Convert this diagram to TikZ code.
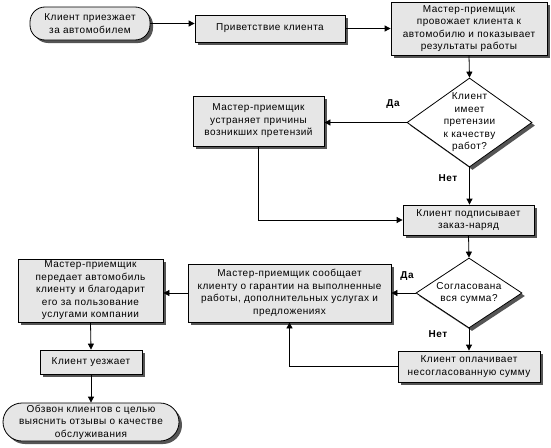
\documentclass[tikz,border=0pt]{standalone}
\usepackage{fontspec}
\setmainfont[LetterSpace=5]{Liberation Sans}
\usetikzlibrary{shapes.geometric,arrows.meta}
\definecolor{boxfill}{HTML}{E6E6E6}
\definecolor{shadowc}{HTML}{555555}
\tikzset{
  shad/.style={preaction={fill=shadowc, transform canvas={shift={(3pt,-3pt)}}}},
  txt/.style={font=\fontsize{10}{12.5}\selectfont},
  base/.style={draw=black, line width=0.8pt, shad, align=center, inner sep=1pt, txt},
  proc/.style={base, rectangle, fill=boxfill},
  term/.style={base, rectangle, rounded corners=15pt, fill=boxfill},
  dia/.style={base, diamond, fill=white, inner sep=0pt},
  lbl/.style={font=\fontsize{10}{11}\selectfont\bfseries},
  arr/.style={-{Triangle[length=6pt,width=6pt]}, line width=0.8pt}
}
\begin{document}
\begin{tikzpicture}[x=1pt,y=-1pt]
\useasboundingbox (0,0) rectangle (551,447);
\node[term, minimum width=120pt, minimum height=33pt] (n1) at (90,23.5) {Клиент приезжает\\за автомобилем};
\node[proc, minimum width=150pt, minimum height=27pt] (n2) at (270,28.5) {Приветствие клиента};
\node[proc, minimum width=156pt, minimum height=53pt] (n3) at (469,28.5) {Мастер-приемщик\\провожает клиента к\\автомобилю и показывает\\результаты работы};
\node[dia, minimum width=125pt, minimum height=89pt] (d1) at (469.5,122.5) {};
\node[align=center, txt] at (d1) {Клиент\\имеет\\претензии\\к качеству\\работ?};
\node[proc, minimum width=131pt, minimum height=50pt] (n5) at (258.5,121) {Мастер-приемщик\\устраняет причины\\возникших претензий};
\node[proc, minimum width=131pt, minimum height=30pt] (n6) at (468.5,220) {Клиент подписывает\\заказ-наряд};
\node[dia, minimum width=106pt, minimum height=70pt] (d2) at (469,293) {};
\node[align=center, txt] at (d2) {Согласована\\вся сумма?};
\node[proc, minimum width=203pt, minimum height=58pt] (n8) at (289.5,293) {Мастер-приемщик сообщает\\клиенту о гарантии на выполненные\\работы, дополнительных услугах и\\предложениях};
\node[proc, minimum width=142pt, minimum height=31pt] (n9) at (469,366.5) {Клиент оплачивает\\несогласованную сумму};
\node[proc, minimum width=145pt, minimum height=63pt] (n10) at (90.5,290.5) {Мастер-приемщик\\передает автомобиль\\клиенту и благодарит\\его за пользование\\услугами компании};
\node[proc, minimum width=102pt, minimum height=24pt] (n11) at (91,362) {Клиент уезжает};
\node[term, minimum width=176pt, minimum height=38pt, rounded corners=19pt] (n12) at (91,422) {Обзвон клиентов с целью\\выяснить отзывы о качестве\\обслуживания};

\draw[arr] (n1.east) -- (n2.west |- n1.east);
\draw[arr] (n2.east) -- (n3.west |- n2.east);
\draw[arr] (n3.south) -- (d1.north);
\draw[arr] (d1.west) -- (n5.east |- d1.west);
\draw[arr] (d1.south) -- (n6.north -| d1.south);
\draw[arr] (n5.south) |- (n6.west);
\draw[arr] (n6.south) -- (d2.north);
\draw[arr] (d2.west) -- (n8.east |- d2.west);
\draw[arr] (d2.south) -- (n9.north);
\draw[arr] (n9.west) -| (n8.south);
\draw[arr] (n8.west) -- (n10.east |- n8.west);
\draw[arr] (n10.south) -- (n11.north);
\draw[arr] (n11.south) -- (n12.north);

\node[lbl] (l1) at (393,104) {Да};
\node[lbl] (l2) at (448,178) {Нет};
\node[lbl] (l3) at (407,276) {Да};
\node[lbl] (l4) at (438,334) {Нет};
\end{tikzpicture}
\end{document}
